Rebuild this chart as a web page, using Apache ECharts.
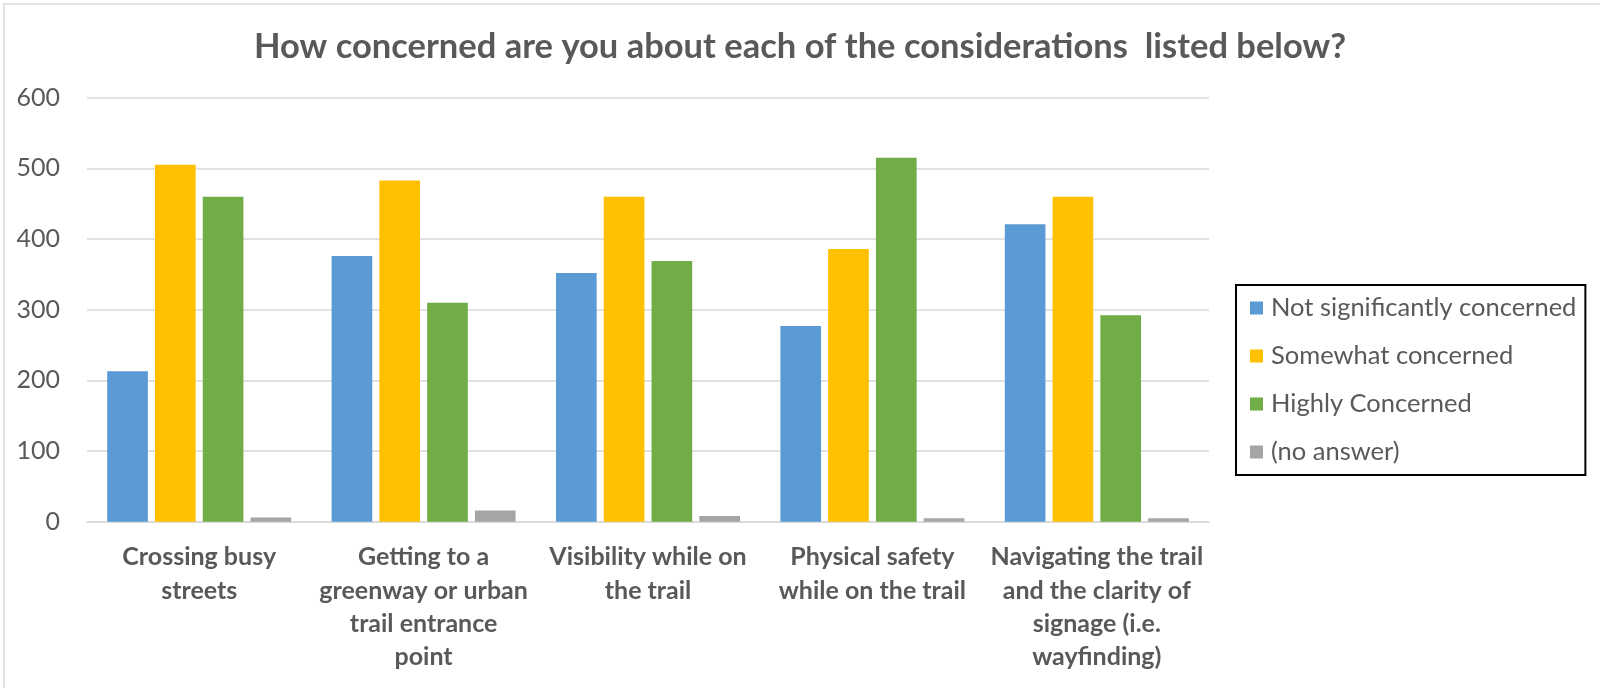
<!DOCTYPE html>
<html>
<head>
<meta charset="utf-8">
<title>Trail concerns survey</title>
<script src="https://cdn.jsdelivr.net/npm/echarts@6/dist/echarts.min.js"></script>
<style>
  html, body { margin: 0; padding: 0; background: #ffffff; }
  #chart { width: 1600px; height: 688px; }
</style>
</head>
<body>
<div id="chart"></div>
<script>
// Survey question categories (x axis)
const categories = [
  'Crossing busy\nstreets',
  'Getting to a\ngreenway or urban\ntrail entrance\npoint',
  'Visibility while on\nthe trail',
  'Physical safety\nwhile on the trail',
  'Navigating the trail\nand the clarity of\nsignage (i.e.\nwayfinding)'
];

// Response counts per answer
const notSignificantly = [213, 376, 352, 277, 421];
const somewhat = [505, 483, 460, 386, 460];
const highly = [460, 310, 369, 515, 292];
const noAnswer = [6, 16, 8, 5, 5];

const seriesNames = ['Not significantly concerned', 'Somewhat concerned', 'Highly Concerned', '(no answer)'];
const seriesColors = ['#5B9BD5', '#FFC000', '#70AD47', '#A5A5A5'];
const seriesValues = [notSignificantly, somewhat, highly, noAnswer];

// Value axis ticks
const yMin = 0;
const yMax = 600;
const yStep = 100;

const FONT = 'Lato, "Noto Sans", sans-serif';
const TEXT = '#595959';

const chart = echarts.init(document.getElementById('chart'), null, { renderer: 'canvas' });

chart.setOption({
  backgroundColor: '#ffffff',
  animation: false,
  title: {
    text: 'How concerned are you about each of the considerations  listed below?',
    left: 'center',
    top: 24,
    textStyle: { fontFamily: FONT, fontSize: 34.5, fontWeight: 'bold', color: TEXT, lineHeight: 36 }
  },
  graphic: [{
    type: 'rect',
    shape: { x: 4, y: 4, width: 1640, height: 720 },
    style: { fill: 'none', stroke: '#d9d9d9', lineWidth: 1.5 },
    silent: true
  }],
  legend: {
    orient: 'vertical',
    left: 1236,
    top: 285,
    icon: 'rect',
    itemWidth: 13,
    itemHeight: 13,
    itemGap: 20,
    padding: [9, 9, 9, 14],
    borderColor: '#000000',
    borderWidth: 2,
    textStyle: { fontFamily: FONT, fontSize: 25.5, color: TEXT, lineHeight: 28, padding: [0, 0, 0, 3] },
    data: seriesNames
  },
  grid: { left: 87, right: 391, top: 97.7, bottom: 166.3, containLabel: false },
  xAxis: {
    type: 'category',
    data: categories,
    axisLine: { show: true, lineStyle: { color: '#d9d9d9', width: 1.5 } },
    axisTick: { show: false },
    axisLabel: {
      interval: 0,
      margin: 19,
      fontFamily: FONT,
      fontSize: 25,
      fontWeight: 'bold',
      color: TEXT,
      lineHeight: 33.3,
      align: 'center'
    }
  },
  yAxis: {
    type: 'value',
    min: yMin,
    max: yMax,
    interval: yStep,
    axisLine: { show: false },
    axisTick: { show: false },
    splitLine: { lineStyle: { color: '#d9d9d9', width: 1.5 } },
    axisLabel: { margin: 27, fontFamily: FONT, fontSize: 25, color: TEXT }
  },
  series: seriesNames.map((name, i) => ({
    name: name,
    type: 'bar',
    data: seriesValues[i],
    barGap: '17.5%',
    barCategoryGap: '18%',
    itemStyle: { color: seriesColors[i] }
  }))
});
</script>
</body>
</html>
